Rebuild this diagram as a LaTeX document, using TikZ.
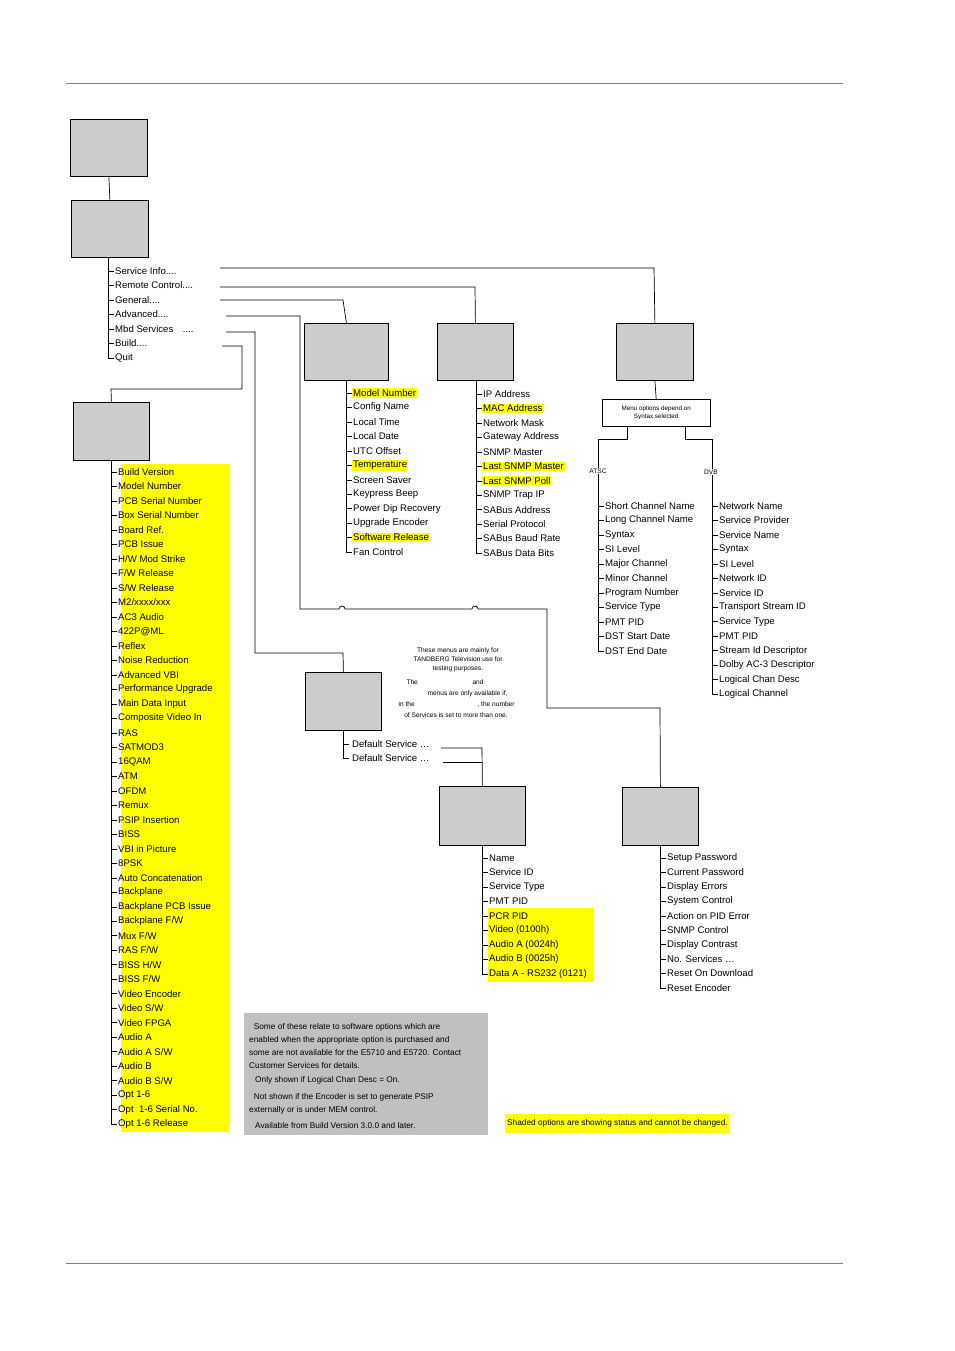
\documentclass[tikz,border=0pt]{standalone}
\usepackage{fontspec}
\setmainfont{Liberation Sans}
\definecolor{boxg}{HTML}{CCCCCC}
\definecolor{noteg}{HTML}{C0C0C0}
\definecolor{hy}{HTML}{FFFF00}
\newcommand\fourdots{.\kern0pt.\kern0pt.\kern0pt.}
\newcommand\tlist[5]{%
 \foreach \t/\h [count=\i] in {#5} {
   \pgfmathsetmacro\yy{#3+(\i-1)*#4}
   \draw[thin] (#1,-\yy) -- ++(6,0);
   \node[item,hl\h] at (#1+6,-\yy) {\t};
   \xdef\lasty{\yy}
 }
 \draw[thin] (#1,-#2) -- (#1,-\lasty);
}
\begin{document}
\begin{tikzpicture}[x=1pt,y=1pt,
  mbox/.style={draw,fill=boxg,line width=0.8pt},
  item/.style={anchor=west,inner sep=1pt,font=\fontsize{9.6}{10}\selectfont},
  hl0/.style={},
  hl1/.style={fill=hy},
  small/.style={font=\fontsize{6.6}{9}\selectfont,align=center},
  conn/.style={line width=0.7pt}]
\useasboundingbox (0,0) rectangle (954,-1351);
\draw[line width=0.5pt,gray] (66,-83) -- (843,-83);
\draw[line width=0.5pt,gray] (66,-1263) -- (843,-1263);
% boxes
\node[mbox,minimum width=77,minimum height=57,anchor=north west] (top) at (70,-119) {};
\node[mbox,minimum width=77,minimum height=57,anchor=north west] (main) at (71,-200) {};
\node[mbox,minimum width=76,minimum height=58,anchor=north west] (build) at (73,-402) {};
\node[mbox,minimum width=84,minimum height=57,anchor=north west] (gen) at (304,-323) {};
\node[mbox,minimum width=76,minimum height=57,anchor=north west] (rem) at (437,-323) {};
\node[mbox,minimum width=77,minimum height=57,anchor=north west] (svc) at (616,-323) {};
\node[mbox,minimum width=76,minimum height=58,anchor=north west] (mbd) at (305,-672) {};
\node[mbox,minimum width=86,minimum height=59,anchor=north west] (dsv) at (439,-786) {};
\node[mbox,minimum width=76,minimum height=58,anchor=north west] (adv) at (622,-787) {};
\node[draw,thin,minimum width=108,minimum height=27,anchor=north west,small] (syn) at (602,-399) {};
\node[small,font=\fontsize{6.3}{8}\selectfont] at (syn.center) {Menu options depend on\\Syntax selected};
\draw[conn] (top.south) -- (main.north);
% main list
\tlist{108}{257}{271}{14.5}{Service Info\fourdots/0,Remote Control\fourdots/0,General\fourdots/0,Advanced\fourdots/0,Mbd Services\quad\fourdots/0,Build\fourdots/0,Quit/0}
% build list
\fill[hy] (121,-464) rectangle (230,-1132);
\tlist{111}{460}{472}{14.49}{Build Version/0,Model Number/0,PCB Serial Number/0,Box Serial Number/0,Board Ref./0,PCB Issue/0,{H/W Mod Strike}/0,{F/W Release}/0,{S/W Release}/0,{M2/xxxx/xxx}/0,AC3 Audio/0,422P@ML/0,Reflex/0,Noise Reduction/0,Advanced VBI/0,Performance Upgrade/0,Main Data Input/0,Composite Video In/0,RAS/0,SATMOD3/0,16QAM/0,ATM/0,OFDM/0,Remux/0,PSIP Insertion/0,BISS/0,VBI in Picture/0,8PSK/0,Auto Concatenation/0,Backplane/0,Backplane PCB Issue/0,{Backplane F/W}/0,{Mux F/W}/0,{RAS F/W}/0,{BISS H/W}/0,{BISS F/W}/0,Video Encoder/0,{Video S/W}/0,Video FPGA/0,Audio A/0,{Audio A S/W}/0,Audio B/0,{Audio B S/W}/0,Opt 1-6/0,Opt\ \ 1-6 Serial No./0,Opt 1-6 Release/0}
% general
\tlist{346}{380}{393}{14.45}{Model Number/1,Config Name/0,Local Time/0,Local Date/0,UTC Offset/0,Temperature/1,Screen Saver/0,Keypress Beep/0,Power Dip Recovery/0,Upgrade Encoder/0,Software Release/1,Fan Control/0}
% remote
\tlist{476}{380}{394}{14.45}{IP Address/0,MAC Address/1,Network Mask/0,Gateway Address/0,SNMP Master/0,Last SNMP Master/1,Last SNMP Poll/1,SNMP Trap IP/0,SABus Address/0,Serial Protocol/0,SABus Baud Rate/0,SABus Data Bits/0}
% ATSC / DVB
\draw[conn] (svc.south) -- (syn.north);
\coordinate (sa) at (627,-426); \coordinate (sb) at (685,-426);
\draw[thin] (sa) -- (627,-439) -- (598,-439) -- (598,-500);
\draw[thin] (sb) -- (685,-439) -- (712,-439) -- (712,-500);
\node[small,fill=white,inner sep=1pt] (atsc) at (598,-471) {ATSC};
\node[small,fill=white,inner sep=1pt] (dvb) at (711,-472) {DVB};
\tlist{598}{490}{506}{14.5}{Short Channel Name/0,Long Channel Name/0,Syntax/0,SI Level/0,Major Channel/0,Minor Channel/0,Program Number/0,Service Type/0,PMT PID/0,DST Start Date/0,DST End Date/0}
\tlist{712}{490}{506}{14.46}{Network Name/0,Service Provider/0,Service Name/0,Syntax/0,SI Level/0,Network ID/0,Service ID/0,Transport Stream ID/0,Service Type/0,PMT PID/0,Stream Id Descriptor/0,Dolby AC-3 Descriptor/0,Logical Chan Desc/0,Logical Channel/0}
% connectors from main list
\draw[conn] (220,-268) -- (654,-268) -- (svc.north);
\draw[conn] (220,-287) -- (475,-287) -- (rem.north);
\draw[conn] (220,-300) -- (343,-300) -- (gen.north);
\draw[conn] (226,-316) -- (300,-316) -- (300,-609) -- (339,-609) arc (180:0:3) -- (472,-609) arc (180:0:3) -- (547,-609) -- (547,-708) -- (660,-708) -- (adv.north);
\draw[conn] (226,-332) -- (255,-332) -- (255,-653) -- (343,-653) -- (mbd.north);
\draw[conn] (222,-346) -- (242,-346) -- (242,-389) -- (111,-389) -- (build.north);
% mbd
\draw[thin] (343,-730) -- (343,-758) -- ++(6,0);
\draw[thin] (343,-744) -- ++(6,0);
\node[item] (d1) at (351,-744) {Default Service \ldots};
\node[item] (d2) at (351,-758) {Default Service \ldots};
\draw[conn] (441,-748) -- (482,-748) -- (dsv.north);
\draw[conn] (443,-762) -- (482,-762);
\node[small] at (458,-660) {These menus are mainly for\\TANDBERG Television use for\\testing purposes.};
\node[small,anchor=west] at (403,-682.5) {The};
\node[small,anchor=west] at (469,-682.5) {and};
\node[small,anchor=west] at (424,-693.5) {menus are only available if,};
\node[small,anchor=west] at (395,-704.5) {in the};
\node[small,anchor=west] at (474,-704.5) {, the number};
\node[small] at (456,-715.5) {of Services is set to more than one.};
% default service list
\fill[hy] (488,-908) rectangle (594,-982);
\tlist{482}{845}{858}{14.5}{Name/0,Service ID/0,Service Type/0,PMT PID/0,PCR PID/0,Video (0100h)/0,Audio A (0024h)/0,Audio B (0025h)/0,Data A - RS232 (0121)/0}
% advanced list
\tlist{660}{845}{858}{14.44}{Setup Password/0,Current Password/0,Display Errors/0,System Control/0,Action on PID Error/0,SNMP Control/0,Display Contrast/0,No. Services \ldots/0,Reset On Download/0,Reset Encoder/0}
% notes
\fill[noteg] (244,-1013) rectangle (488,-1135);
\begin{scope}[every node/.style={anchor=west,inner sep=0pt,font=\fontsize{8.3}{13}\selectfont,align=left}]
\node (n1) at (249,-1046) {\ \ Some of these relate to software options which are\\enabled when the appropriate option is purchased and\\some are not available for the E5710 and E5720. Contact\\Customer Services for details.};
\node (n2) at (255,-1080) {Only shown if Logical Chan Desc = On.};
\node (n3) at (249,-1103.5) {\ \ Not shown if the Encoder is set to generate PSIP\\externally or is under MEM control.};
\node (n4) at (255,-1126) {Available from Build Version 3.0.0 and later.};
\end{scope}
\node[fill=hy,anchor=west,inner sep=2pt,minimum height=19,font=\fontsize{8.3}{10}\selectfont] (shade) at (505,-1123) {Shaded options are showing status and cannot be changed.};
\end{tikzpicture}
\end{document}
